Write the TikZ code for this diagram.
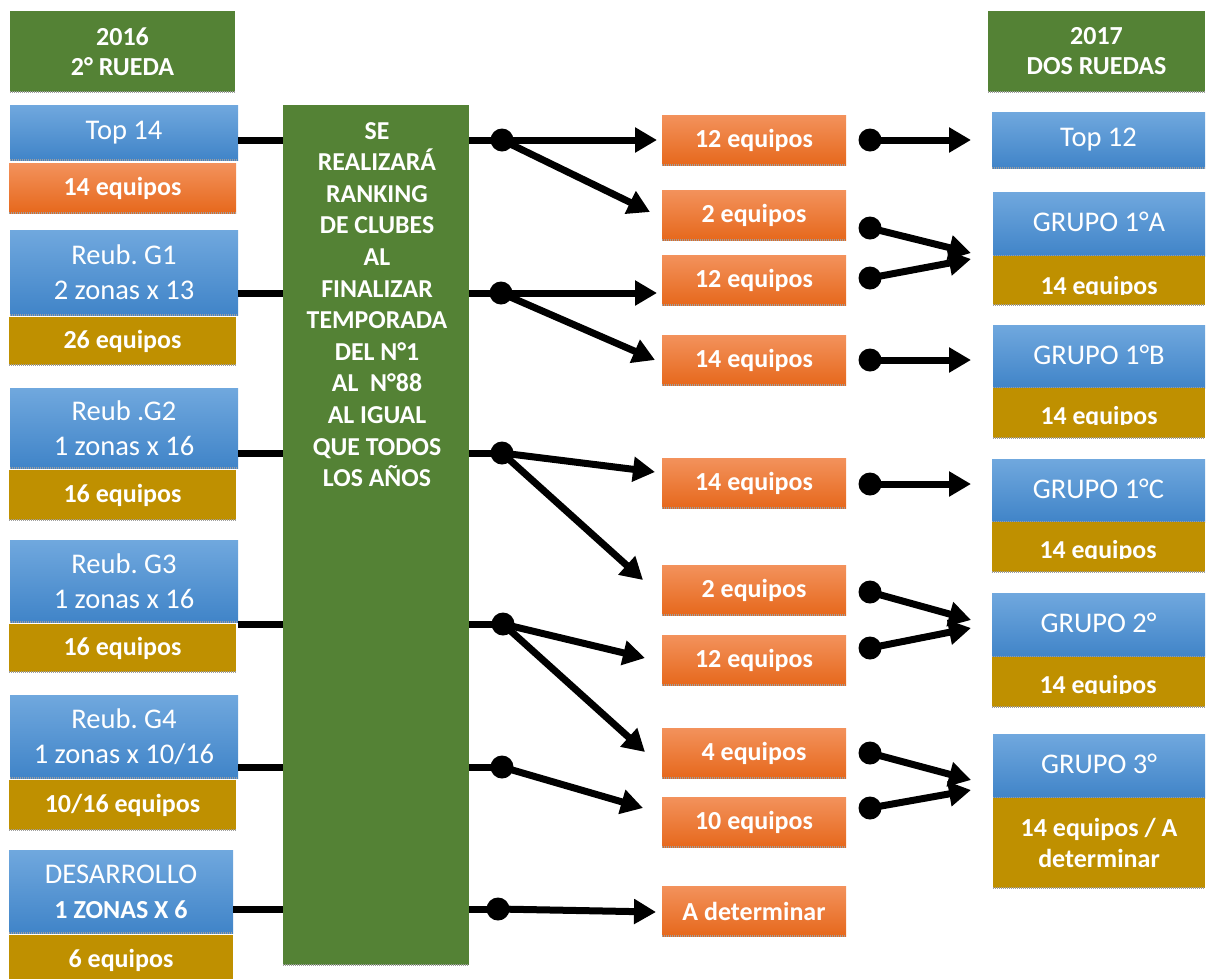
\documentclass[tikz,border=0pt]{standalone}
\usepackage{fontspec}
\setmainfont{Carlito}
\usetikzlibrary{arrows.meta}
\frenchspacing
\definecolor{gbox}{RGB}{84,130,53}
\definecolor{goldc}{RGB}{191,144,0}
\definecolor{bluetop}{RGB}{112,168,222}
\definecolor{bluebot}{RGB}{64,132,200}
\definecolor{orgtop}{RGB}{243,146,92}
\definecolor{orgbot}{RGB}{230,104,28}
\tikzset{
  basebox/.style={inner sep=0pt, outer sep=0pt, text=white, align=center},
  bluebox/.style={basebox, top color=bluetop, bottom color=bluebot, font=\fontsize{28.5}{35}\selectfont},
  orgbox/.style={basebox, top color=orgtop, bottom color=orgbot, font=\fontsize{26}{30}\selectfont\bfseries},
  goldbox/.style={basebox, fill=goldc, font=\fontsize{26}{31}\selectfont\bfseries},
  grnbox/.style={basebox, fill=gbox, font=\fontsize{26}{30}\selectfont\bfseries},
  boldtxt/.style={inner sep=0pt, text=white, align=center, font=\fontsize{25.8}{31.6}\selectfont\bfseries},
  conn/.style={line width=7pt},
  arr/.style={conn, -{Triangle[length=22pt,width=24pt]}},
  blob/.style={circle, fill=black, minimum size=23pt, inner sep=0pt},
  shad/.style={draw=gray!75, line width=2.2pt, dash pattern=on 1pt off 1pt}
}
\newcommand{\mkbox}[7]{%
  \node[#2, minimum width={#5pt-#3pt}, minimum height={#6pt-#4pt}] (#1) at ({(#3+#5)/2},{(#4+#6)/2}) {#7};
  \draw[shad] (#1.south west) -- (#1.south east);}
\newcommand{\up}[1]{\raisebox{4pt}{#1}}
\begin{document}
\begin{tikzpicture}[x=1pt,y=-1pt]
\useasboundingbox (0,0) rectangle (1207,978);
% ---------- left column ----------
\mkbox{hdrL}{grnbox}{10}{11}{235}{92}{2016\\2° RUEDA}
\mkbox{top14}{bluebox}{10}{105}{238}{160}{Top 14}
\mkbox{eqA}{orgbox}{9}{163}{236}{213}{14 equipos}
\mkbox{gA}{bluebox}{10}{230}{238}{315}{Reub. G1\\2 zonas x 13}
\mkbox{gAe}{goldbox}{9}{317}{236}{365}{26 equipos}
\mkbox{gB}{bluebox}{10}{388}{238}{468}{Reub .G2\\1 zonas x 16}
\mkbox{gBe}{goldbox}{9}{470}{236}{520}{16 equipos}
\mkbox{gC}{bluebox}{10}{540}{238}{622}{Reub. G3\\1 zonas x 16}
\mkbox{gCe}{goldbox}{9}{624}{236}{672}{16 equipos}
\mkbox{gD}{bluebox}{10}{695}{238}{778}{Reub. G4\\1 zonas x 10/16}
\mkbox{gDe}{goldbox}{9}{780}{236}{830}{10/16 equipos}
\mkbox{des}{bluebox}{9}{850}{233}{933}{DESARROLLO\\\fontsize{26}{35}\selectfont\bfseries 1 ZONAS X 6}
\mkbox{dese}{goldbox}{9}{935}{233}{985}{6 equipos}
% ---------- centre ----------
\mkbox{cen}{grnbox}{283}{105}{469}{965}{}
\node[boldtxt, anchor=north] (centxt) at (377,122) {SE\\REALIZARÁ\\RANKING\\DE CLUBES\\AL\\FINALIZAR\\TEMPORADA\\DEL N°1\\AL~~N°88\\AL IGUAL\\QUE TODOS\\LOS AÑOS};
% ---------- middle orange ----------
\mkbox{o1}{orgbox}{662}{115}{846}{165}{12 equipos}
\mkbox{o2}{orgbox}{662}{190}{846}{240}{2 equipos}
\mkbox{o3}{orgbox}{662}{255}{846}{305}{12 equipos}
\mkbox{o4}{orgbox}{662}{335}{846}{385}{14 equipos}
\mkbox{o5}{orgbox}{662}{458}{846}{508}{14 equipos}
\mkbox{o6}{orgbox}{662}{565}{846}{615}{2 equipos}
\mkbox{o7}{orgbox}{662}{635}{846}{685}{12 equipos}
\mkbox{o8}{orgbox}{662}{728}{846}{778}{4 equipos}
\mkbox{o9}{orgbox}{662}{797}{846}{847}{10 equipos}
\mkbox{o10}{orgbox}{662}{886}{846}{936}{A determinar}
% ---------- right column ----------
\mkbox{hdrR}{grnbox}{988}{11}{1205}{92}{2017\\DOS RUEDAS}
\mkbox{top12}{bluebox}{992}{112}{1205}{168}{Top 12}
\mkbox{rA}{bluebox}{993}{192}{1205}{256}{\up{GRUPO 1°A}}
\mkbox{rAe}{goldbox}{993}{256}{1205}{305}{}
\mkbox{rB}{bluebox}{993}{325}{1205}{388}{\up{GRUPO 1°B}}
\mkbox{rBe}{goldbox}{993}{388}{1205}{438}{}
\mkbox{rC}{bluebox}{992}{459}{1205}{522}{\up{GRUPO 1°C}}
\mkbox{rCe}{goldbox}{992}{522}{1205}{572}{}
\mkbox{rD}{bluebox}{992}{593}{1205}{657}{\up{GRUPO 2°}}
\mkbox{rDe}{goldbox}{992}{657}{1205}{707}{}
\mkbox{rE}{bluebox}{993}{734}{1205}{798}{\up{GRUPO 3°}}
\mkbox{rEe}{goldbox}{993}{798}{1205}{888}{14 equipos / A\\determinar}
\begin{scope}\clip (993,256) rectangle (1205,294);
  \node[boldtxt, anchor=base] (rAt) at (1099,294) {14 equipos};\end{scope}
\begin{scope}\clip (993,388) rectangle (1205,424);
  \node[boldtxt, anchor=base] (rBt) at (1099,424) {14 equipos};\end{scope}
\begin{scope}\clip (992,522) rectangle (1205,558);
  \node[boldtxt, anchor=base] (rCt) at (1098,558) {14 equipos};\end{scope}
\begin{scope}\clip (992,657) rectangle (1205,693);
  \node[boldtxt, anchor=base] (rDt) at (1098,693) {14 equipos};\end{scope}
% ---------- junction dots (left) ----------
\node[blob] (d1) at (502,140) {};
\node[blob] (d2) at (501,293) {};
\node[blob] (d3) at (502,453) {};
\node[blob] (d4) at (503,624) {};
\node[blob] (d5) at (502,767) {};
\node[blob] (d6) at (498,909) {};
% left boxes to centre
\draw[conn] (top14.east |- d1) -- (cen.west |- d1);
\draw[conn] (gA.east |- d2) -- (cen.west |- d2);
\draw[conn] (gB.east |- d3) -- (cen.west |- d3);
\draw[conn] (gC.east |- d4) -- (cen.west |- d4);
\draw[conn] (gD.east |- d5) -- (cen.west |- d5);
\draw[conn] (des.east |- d6) -- (cen.west |- d6);
% centre to dots
\foreach \d in {d1,d2,d3,d4,d5,d6} \draw[conn] (cen.east |- \d) -- (\d.center);
% arrow ends
\coordinate (t1a) at (657,140); \coordinate (t1b) at (650,212);
\coordinate (t2a) at (657,293); \coordinate (t2b) at (655,360);
\coordinate (t3a) at (655,472); \coordinate (t3b) at (643,580);
\coordinate (t4a) at (645,658); \coordinate (t4b) at (645,752);
\coordinate (t5a) at (643,808);
\coordinate (t6a) at (656,912);
\draw[arr] (d1.center) -- (t1a); \draw[arr] (d1.center) -- (t1b);
\draw[arr] (d2.center) -- (t2a); \draw[arr] (d2.center) -- (t2b);
\draw[arr] (d3.center) -- (t3a); \draw[arr] (d3.center) -- (t3b);
\draw[arr] (d4.center) -- (t4a); \draw[arr] (d4.center) -- (t4b);
\draw[arr] (d5.center) -- (t5a);
\draw[arr] (d6.center) -- (t6a);
% ---------- right junctions ----------
\node[blob] (r1) at (870,140) {};
\node[blob] (r2) at (870,228) {};
\node[blob] (r3) at (870,278) {};
\node[blob] (r4) at (870,360) {};
\node[blob] (r5) at (870,484) {};
\node[blob] (r6) at (870,592) {};
\node[blob] (r7) at (870,648) {};
\node[blob] (r8) at (870,753) {};
\node[blob] (r9) at (870,808) {};
\coordinate (u1) at (971,140);
\coordinate (u2) at (971,253);
\coordinate (u3) at (971,259);
\coordinate (u4) at (971,360);
\coordinate (u5) at (971,484);
\coordinate (u6) at (971,620);
\coordinate (u7) at (971,628);
\coordinate (u8) at (971,780);
\coordinate (u9) at (971,790);
\foreach \a/\b in {r1/u1,r2/u2,r3/u3,r4/u4,r5/u5,r6/u6,r7/u7,r8/u8,r9/u9}
  \draw[arr] (\a.center) -- (\b);
\end{tikzpicture}
\end{document}
